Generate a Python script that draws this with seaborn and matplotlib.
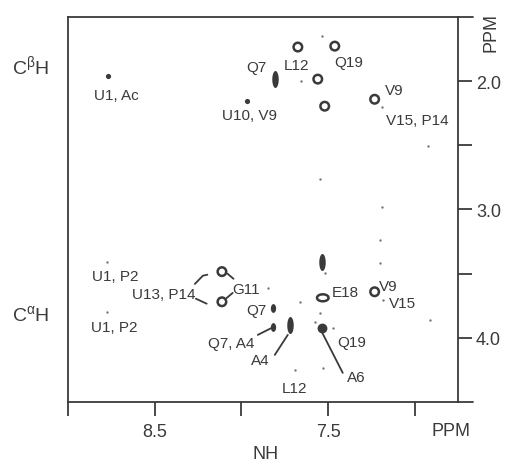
import numpy as np
import pandas as pd
import matplotlib
matplotlib.use("Agg")
import matplotlib.pyplot as plt
import seaborn as sns

# ---------------- data (ppm) ----------------
peak_x = [8.769, 7.968, 7.807, 7.674, 7.536, 7.461, 7.559, 7.657, 7.519, 7.231,
          7.190, 6.925, 7.548, 7.190, 7.202, 7.202,
          8.775, 8.775, 8.112, 8.112, 7.847, 7.818, 7.818, 7.720, 7.536, 7.519,
          7.530, 7.663, 7.548, 7.536, 7.576, 7.473, 7.692, 7.530, 7.231, 7.184, 6.914]
peak_y = [1.961, 2.156, 1.984, 1.734, 1.648, 1.727, 1.984, 2.000, 2.195, 2.141,
          2.203, 2.508, 2.766, 2.977, 3.234, 3.414,
          3.406, 3.797, 3.484, 3.719, 3.609, 3.766, 3.914, 3.898, 3.406, 3.492,
          3.688, 3.719, 3.805, 3.922, 3.875, 3.922, 4.250, 4.234, 3.641, 3.703, 3.859]
peak_kind = ["dot", "dot", "tall", "ring", "tiny", "ring", "ring", "tiny", "ring", "ring",
             "tiny", "tiny", "tiny", "tiny", "tiny", "tiny",
             "tiny", "tiny", "ring", "ring", "tiny", "oval", "oval", "tall", "tall", "tiny",
             "wide", "tiny", "tiny", "blob", "tiny", "tiny", "tiny", "tiny", "ring", "tiny", "tiny"]

label_text = ["U1, Ac", "U10, V9", "Q7", "L12", "Q19", "V9", "V15, P14",
              "U1, P2", "U13, P14", "U1, P2", "G11", "Q7", "Q7, A4", "A4",
              "E18", "V9", "V15", "Q19", "A6", "L12"]
label_x = [8.723, 7.951, 7.916, 7.680, 7.380, 7.115, 6.983,
           8.729, 8.447, 8.735, 7.974, 7.916, 8.061, 7.888,
           7.403, 7.150, 7.069, 7.363, 7.334, 7.692]
label_y = [2.109, 2.266, 1.891, 1.875, 1.852, 2.070, 2.305,
           3.516, 3.656, 3.914, 3.617, 3.781, 4.039, 4.172,
           3.641, 3.594, 3.727, 4.031, 4.305, 4.391]

# connector lines (x list, y list)
connectors = [
    ([7.905, 7.824], [3.977, 3.922]),            # Q7, A4
    ([7.807, 7.732], [4.133, 3.977]),            # A4
    ([7.536, 7.415], [3.953, 4.273]),            # A6
    ([8.268, 8.222, 8.196], [3.580, 3.516, 3.508]),  # U13,P14 upper
    ([8.262, 8.200], [3.695, 3.734]),            # U13,P14 lower
    ([8.080, 8.045], [3.500, 3.540]),            # G11 upper
    ([8.085, 8.050], [3.690, 3.650]),            # G11 lower
]

x_ticks = [9.0, 8.5, 8.0, 7.5, 7.0]
x_ticklabels = ["", "8.5", "", "7.5", ""]
y_ticks = [2.0, 2.5, 3.0, 3.5, 4.0]
y_ticklabels = ["2.0", "", "3.0", "", "4.0"]

# ---------------- style ----------------
sns.set_theme(style="white")
plt.rcParams["font.family"] = ["Liberation Sans", "DejaVu Sans"]
plt.rcParams["mathtext.fontset"] = "custom"
plt.rcParams["mathtext.rm"] = "Liberation Sans"
plt.rcParams["mathtext.it"] = "Liberation Sans:italic"
INK = "#3a3a3a"

fig = plt.figure(figsize=(5.15, 4.64), dpi=100)
fig.patch.set_facecolor("white")
ax = fig.add_axes([68 / 515, 61 / 464, 390 / 515, 385 / 464])
ax.set_facecolor("white")

df = pd.DataFrame({"x": peak_x, "y": peak_y, "kind": peak_kind})

th = np.linspace(0, 2 * np.pi, 40)
tall_marker = list(zip(0.38 * np.cos(th), np.sin(th)))
oval_marker = list(zip(0.6 * np.cos(th), np.sin(th)))
wide_marker = list(zip(np.cos(th), 0.6 * np.sin(th)))

styles = {
    "dot":  dict(marker="o", s=14, color=INK, linewidth=0),
    "tiny": dict(marker="o", s=3, color="#777777", linewidth=0),
    "ring": dict(marker="o", s=38, facecolor="none", edgecolor=INK, linewidth=1.8),
    "wide": dict(marker=wide_marker, s=70, facecolor="none", edgecolor=INK, linewidth=1.8),
    "tall": dict(marker=tall_marker, s=150, color=INK, linewidth=0),
    "oval": dict(marker=oval_marker, s=40, color=INK, linewidth=0),
    "blob": dict(marker="o", s=50, color=INK, linewidth=0),
}
for kind, kw in styles.items():
    sub = df[df["kind"] == kind]
    if len(sub):
        sns.scatterplot(data=sub, x="x", y="y", ax=ax, legend=False, **kw)

for xs, ys in connectors:
    ax.plot(xs, ys, color=INK, lw=1.3, solid_capstyle="round")

for t, x, y in zip(label_text, label_x, label_y):
    ax.text(x, y, t, ha="center", va="center", fontsize=11, color=INK)

ax.set_xlim(9.0, 6.75)
ax.set_ylim(4.5, 1.5)
ax.set_xlabel("")
ax.set_ylabel("")

ax.set_xticks(x_ticks)
ax.set_xticklabels(x_ticklabels)
ax.yaxis.tick_right()
ax.set_yticks(y_ticks)
ax.set_yticklabels(y_ticklabels)
ax.tick_params(axis="x", direction="out", length=10, width=1.3, color=INK,
               labelsize=13, labelcolor=INK, pad=5, bottom=True)
ax.tick_params(axis="y", direction="out", length=10, width=1.3, color=INK,
               labelsize=13, labelcolor=INK, pad=3, right=True, left=False)
for sp in ax.spines.values():
    sp.set_color(INK)
    sp.set_linewidth(1.3)
    sp.set_visible(True)

# top and bottom rules run a little past the right axis
for yy in (0, 1):
    ax.plot([1, 1 + 15 / 390], [yy, yy], transform=ax.transAxes, color=INK,
            lw=1.3, clip_on=False)

fig.text(451 / 515, 1 - 432 / 464, "PPM", ha="center", va="center", fontsize=13, color=INK)
fig.text(266 / 515, 1 - 455 / 464, "NH", ha="center", va="center", fontsize=13, color=INK)
fig.text(491 / 515, 1 - 33 / 464, "PPM", ha="center", va="center", fontsize=13,
         color=INK, rotation=90)
fig.text(31 / 515, 1 - 66 / 464, r"C$^{\mathrm{\beta}}$H", ha="center", va="center",
         fontsize=14, color=INK)
fig.text(31 / 515, 1 - 315 / 464, r"C$^{\mathrm{\alpha}}$H", ha="center", va="center",
         fontsize=14, color=INK)

fig.savefig("out.png", dpi=100, facecolor="white")
